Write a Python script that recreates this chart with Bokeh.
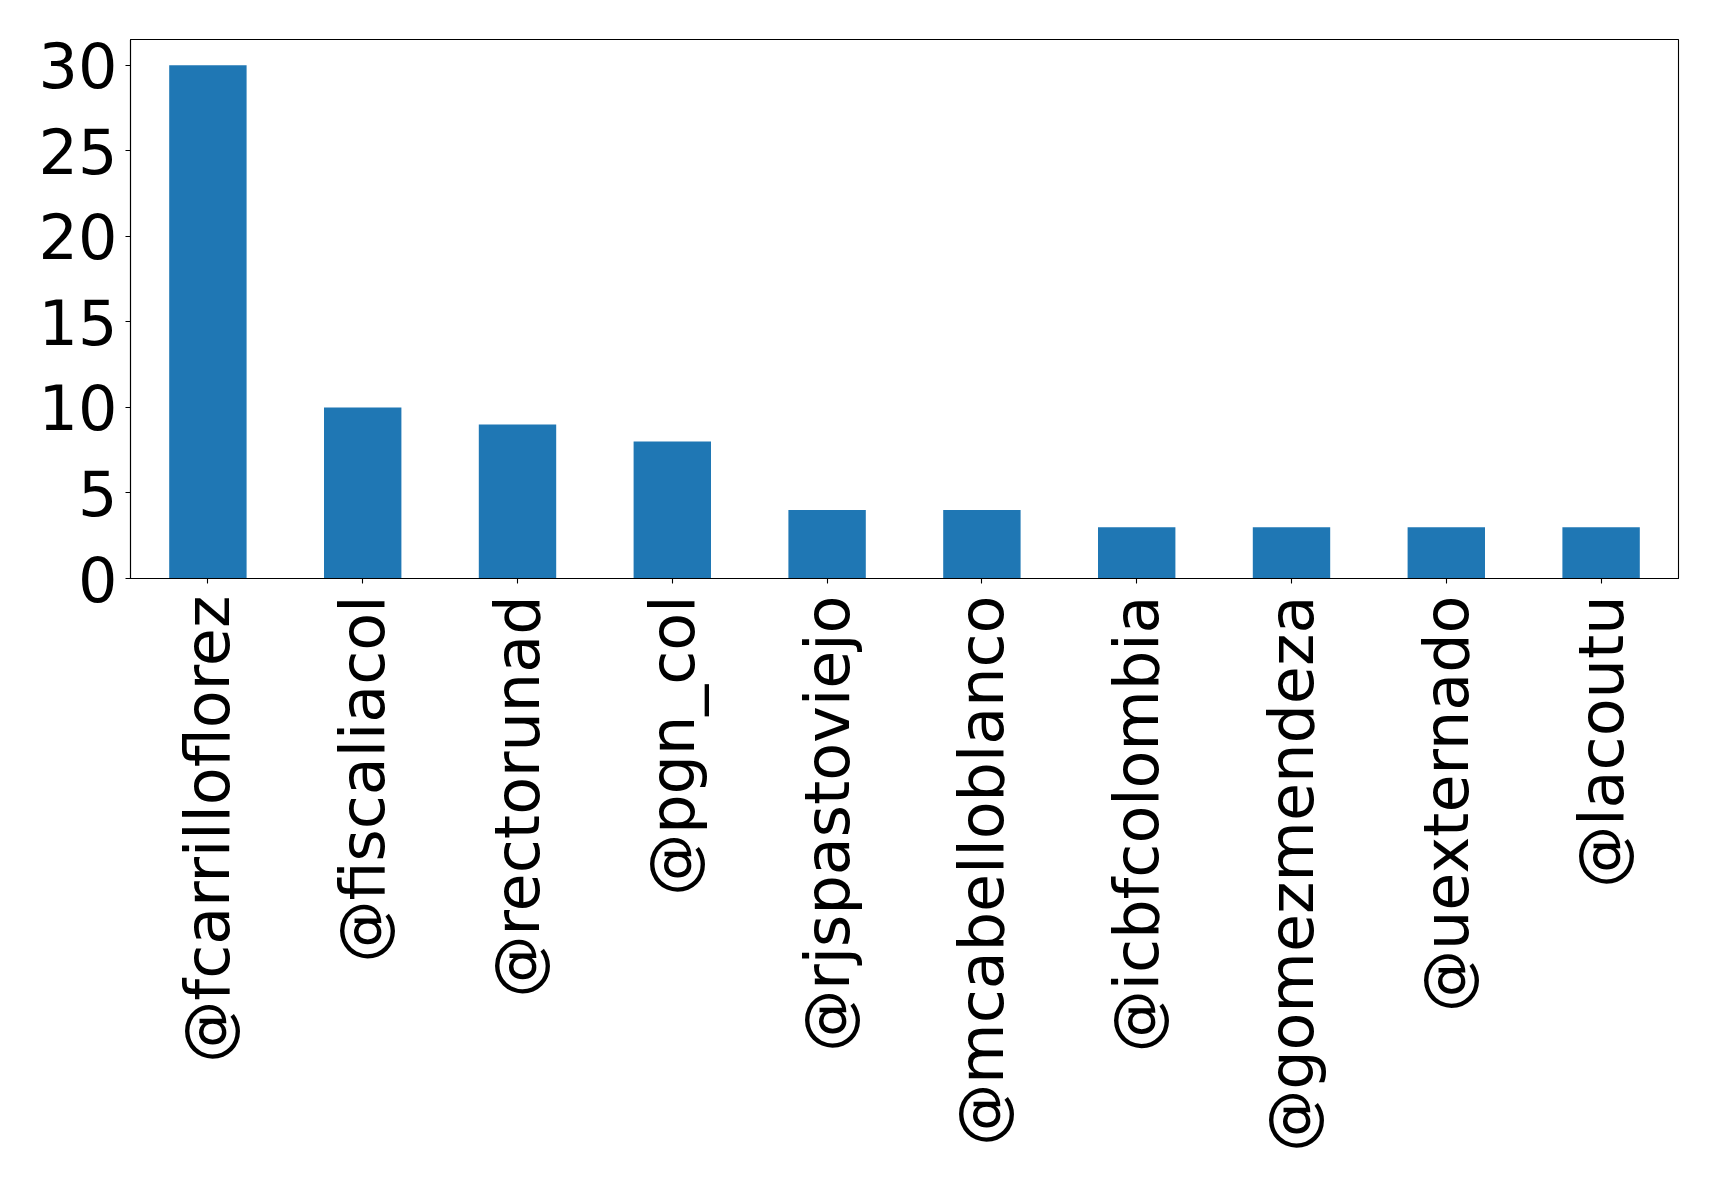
import math
from bokeh.plotting import figure
from bokeh.models import Range1d, FixedTicker, ColumnDataSource
from bokeh.embed import file_html
from bokeh.resources import INLINE

accounts = ["@fcarrilloflorez", "@fiscaliacol", "@rectorunad", "@pgn_col",
            "@rjspastoviejo", "@mcabelloblanco", "@icbfcolombia",
            "@gomezmendeza", "@uexternado", "@lacoutu"]
counts = [30, 10, 9, 8, 4, 4, 3, 3, 3, 3]
y_ticks = [0, 5, 10, 15, 20, 25, 30]

src = ColumnDataSource(dict(x=accounts, top=counts))

p = figure(x_range=accounts, y_range=Range1d(0, 31.5),
           width=1710, height=1170, output_backend="svg",
           toolbar_location=None,
           min_border_left=130, min_border_top=39,
           min_border_right=32, min_border_bottom=592)

p.vbar(x="x", top="top", width=0.5, source=src, fill_color="#1f77b4",
       line_color=None)

p.xgrid.visible = False
p.ygrid.visible = False
p.outline_line_color = "black"
p.outline_line_width = 1.1
p.background_fill_color = "white"
p.border_fill_color = "white"

p.yaxis.ticker = FixedTicker(ticks=y_ticks)
for ax in (p.xaxis[0], p.yaxis[0]):
    ax.axis_line_color = "black"
    ax.axis_line_width = 1.1
    ax.major_tick_line_color = "black"
    ax.major_tick_line_width = 1.1
    ax.major_tick_out = 5
    ax.major_tick_in = 0
    ax.minor_tick_line_color = None
    ax.major_label_text_font = "DejaVu Sans"
    ax.major_label_text_font_size = "62px"
    ax.major_label_text_color = "black"

p.yaxis.major_label_standoff = 8
p.xaxis.major_label_standoff = 12
p.xaxis.major_label_orientation = math.pi / 2

open("out.html", "w").write(file_html(p, INLINE))
